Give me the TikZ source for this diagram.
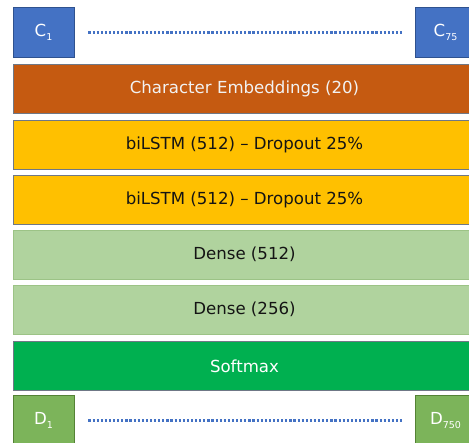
\documentclass[tikz,border=0pt]{standalone}
\usepackage{fontspec}
\setsansfont{DejaVu Sans}
\usetikzlibrary{calc}
\definecolor{nnBlue}{HTML}{4472C4}
\definecolor{nnBlueEdge}{HTML}{2F528F}
\definecolor{nnRust}{HTML}{C55A11}
\definecolor{nnAmber}{HTML}{FFC000}
\definecolor{nnSage}{HTML}{B0D39E}
\definecolor{nnSageEdge}{HTML}{9CC386}
\definecolor{nnGreen}{HTML}{00B050}
\definecolor{nnLeaf}{HTML}{7CB45A}
\definecolor{nnLeafEdge}{HTML}{548235}
\definecolor{nnEdge}{HTML}{6F7886}
\definecolor{nnInk}{HTML}{141414}
\newcommand{\NNType}{\sffamily\fontsize{16.6}{19}\selectfont}
\newcommand{\NNIdx}[1]{\raisebox{-.45ex}{\fontsize{9.5}{9.5}\selectfont#1}}
\tikzset{nn/base/.style={x=1pt,y=1pt,line cap=butt,line join=miter,
  every node/.style={font=\NNType,inner sep=0pt,text=nnInk}},
  nn/layer/.style={draw=nnEdge,line width=.9pt,minimum width=463pt,
    minimum height=49pt,align=center},
  nn/emb/.style={fill=nnRust,text=white!95!black},
  nn/lstm/.style={fill=nnAmber},
  nn/dense/.style={fill=nnSage,draw=nnSageEdge},
  nn/soft/.style={fill=nnGreen,text=white},
  nn/input/.style={draw=nnBlueEdge,fill=nnBlue,text=white,line width=.9pt,
    minimum width=61pt,minimum height=50pt},
  nn/output/.style={draw=nnLeafEdge,fill=nnLeaf,text=white,line width=.9pt,
    minimum width=61pt,minimum height=50pt},
  nn/dots/.style={draw=nnBlue,line width=2.6pt,dash pattern=on 2.2pt off 1.9pt}}

\begin{document}
\begin{tikzpicture}[nn/base,y=-1pt]
  \useasboundingbox (0,0) rectangle (469,443);
  \clip (0,0) rectangle (469,443);
  % one character per input slot, one class per output slot
  \node[nn/input] (c1) at (43.5,32.5) {C\NNIdx{1}};
  \node[nn/input] (c75) at (445.5,32.5) {C\NNIdx{75}};
  \foreach \y/\name/\look/\txt in {
      88.5/emb/emb/{Character Embeddings (20)},
      144.5/lstmA/lstm/{biLSTM (512) – Dropout 25\%},
      199.5/lstmB/lstm/{biLSTM (512) – Dropout 25\%},
      254.5/denseA/dense/{Dense (512)},
      309.5/denseB/dense/{Dense (256)},
      366/softmax/soft/{Softmax}}{
    \node[nn/layer,nn/\look] (\name) at (244.5,\y) {\txt};}
  \node[nn/output] (d1) at (43.5,420.5) {D\NNIdx{1}};
  \node[nn/output] (d750) at (445.5,420.5) {D\NNIdx{750}};
  \draw[nn/dots,shorten <=14pt,shorten >=13pt] (c1.east) -- (c75.west);
  \draw[nn/dots,shorten <=14pt,shorten >=13pt] (d1.east) -- (d750.west);
\end{tikzpicture}
\end{document}
